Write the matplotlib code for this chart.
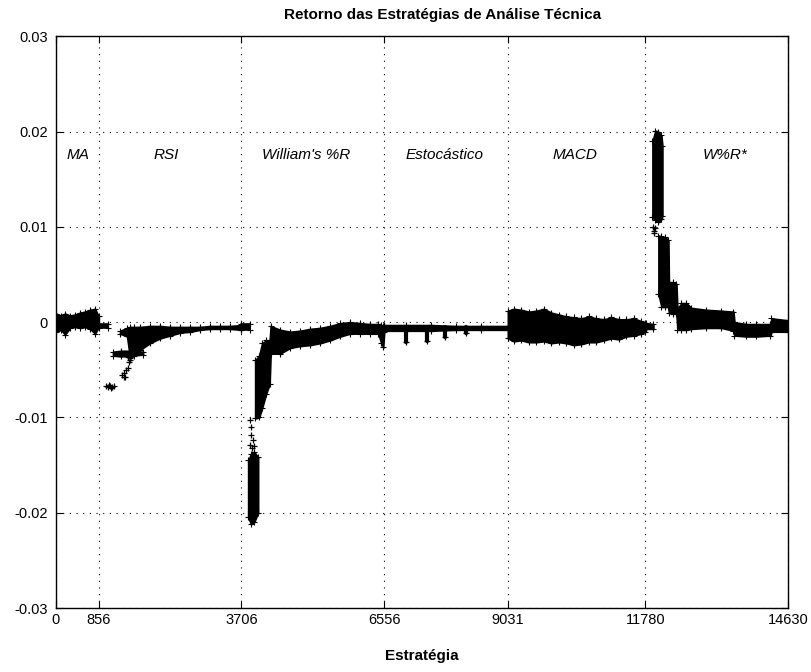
import matplotlib
matplotlib.use("Agg")
import matplotlib.pyplot as plt

plt.rcParams["font.family"] = ["Liberation Sans", "DejaVu Sans"]

# tick positions (strategy index boundaries)
x_ticks = [0, 856, 3706, 6556, 9031, 11780, 14630]
y_ticks = [-0.03, -0.02, -0.01, 0, 0.01, 0.02, 0.03]
y_ticklabels = ["-0.03", "-0.02", "-0.01", "0", "0.01", "0.02", "0.03"]

# group labels
group_names = ["MA", "RSI", "William's %R", "Estocástico", "MACD", "W%R*"]
group_x = [440, 2200, 5000, 7760, 10380, 13380]
group_y = [0.0175, 0.0175, 0.0175, 0.0175, 0.0175, 0.0175]

# MA envelope
ma_x = [0, 100, 180, 280, 380, 480, 580, 680, 780, 856]
ma_hi = [0.0009, 0.0007, 0.0009, 0.0007, 0.0008, 0.0010, 0.0011, 0.0013, 0.0014, 0.0006]
ma_lo = [-0.0010, -0.0008, -0.0013, -0.0006, -0.0005, -0.0006, -0.0005, -0.0007, -0.0012, -0.0005]

# RSI
rsi_head_x = [860, 1040]
rsi_head_hi = [-0.0002, -0.0002]
rsi_head_lo = [-0.0006, -0.0006]
rsi_x = [1280, 1420, 1480, 1560, 1680, 1880, 2080, 2280, 2480, 2680, 2880, 3080, 3280, 3480, 3706]
rsi_hi = [-0.0009, -0.0006, -0.0005, -0.0005, -0.0005, -0.0004, -0.0004, -0.0005,
          -0.0005, -0.0005, -0.0005, -0.0004, -0.0004, -0.0004, -0.0003]
rsi_lo = [-0.0012, -0.0015, -0.0038, -0.0035, -0.0029, -0.0022, -0.0017, -0.0014,
          -0.0011, -0.0010, -0.0008, -0.0007, -0.0007, -0.0007, -0.0008]
rsi_band_x = [1140, 1300, 1500, 1740]
rsi_band_hi = [-0.0031, -0.0030, -0.0030, -0.0031]
rsi_band_lo = [-0.0035, -0.0036, -0.0035, -0.0034]
rsi_pts_x = [990, 1030, 1070, 1110, 1150, 1050, 1090,
             1320, 1350, 1380, 1400, 1440, 1360, 1440, 1480, 1460]
rsi_pts_y = [-0.0067, -0.0068, -0.0067, -0.0068, -0.0067, -0.0066, -0.0069,
             -0.0055, -0.0053, -0.0057, -0.0050, -0.0048, -0.0058, -0.0037, -0.0040, -0.0042]

# William's %R
wr_head_x = [3706, 3880]
wr_head_hi = [-0.0002, -0.0002]
wr_head_lo = [-0.0008, -0.0008]
wr_spike_x = [3840, 3900, 3960, 4040]
wr_spike_hi = [-0.0145, -0.0138, -0.0136, -0.0142]
wr_spike_lo = [-0.0205, -0.0212, -0.0210, -0.0200]
wr_pts_x = [3890, 3930, 3870, 3910, 3950, 3880, 3900]
wr_pts_y = [-0.0110, -0.0124, -0.0129, -0.0132, -0.0130, -0.0103, -0.0118]
wr_x = [3980, 4060, 4120, 4200, 4270, 4290, 4480, 4680, 4880, 5080, 5280, 5480,
        5680, 5880, 6080, 6280, 6440, 6500, 6540, 6560]
wr_hi = [-0.0040, -0.0035, -0.0022, -0.0019, -0.0019, -0.0004, -0.0008, -0.0010,
         -0.0009, -0.0007, -0.0006, -0.0004, -0.0001, 0.0000, -0.0001, -0.0002,
         -0.0002, -0.0003, -0.0004, -0.0004]
wr_lo = [-0.0101, -0.0100, -0.0090, -0.0075, -0.0065, -0.0033, -0.0033, -0.0027,
         -0.0025, -0.0024, -0.0022, -0.0019, -0.0015, -0.0012, -0.0012, -0.0012,
         -0.0012, -0.0022, -0.0026, -0.0010]

# Estocástico
sto_x = [6560, 7000, 7500, 8000, 8500, 9031]
sto_hi = [-0.0003, -0.0003, -0.0003, -0.0004, -0.0004, -0.0004]
sto_lo = [-0.0009, -0.0009, -0.0009, -0.0008, -0.0008, -0.0008]
sto_drip_x = [7000, 7420, 7780, 8200]
sto_drip_lo = [-0.0021, -0.0020, -0.0016, -0.0011]

# MACD
macd_x = [9031, 9150, 9300, 9450, 9600, 9750, 9900, 10050, 10200, 10350, 10500, 10650,
          10800, 10950, 11100, 11250, 11400, 11550, 11700, 11780, 11800, 11940]
macd_hi = [0.0012, 0.0014, 0.0013, 0.0011, 0.0012, 0.0014, 0.0010, 0.0008, 0.0006,
           0.0005, 0.0004, 0.0006, 0.0004, 0.0003, 0.0005, 0.0003, 0.0003, 0.0004,
           0.0001, -0.0001, -0.0001, -0.0002]
macd_lo = [-0.0017, -0.0020, -0.0019, -0.0021, -0.0021, -0.0020, -0.0022, -0.0021,
           -0.0022, -0.0024, -0.0023, -0.0021, -0.0021, -0.0019, -0.0017, -0.0018,
           -0.0015, -0.0014, -0.0012, -0.0010, -0.0007, -0.0007]

# W%R*
wrs_top_x = [11920, 11980, 12040, 12100, 12120]
wrs_top_hi = [0.0190, 0.0201, 0.0200, 0.0196, 0.0185]
wrs_top_lo = [0.0110, 0.0107, 0.0105, 0.0108, 0.0112]
wrs_pts_x = [11940, 11960, 11950, 11980]
wrs_pts_y = [0.0100, 0.0096, 0.0094, 0.0099]
wrs_x = [12040, 12100, 12180, 12240, 12250, 12340, 12400, 12420, 12500, 12600, 12700,
         13000, 13300, 13540, 13560, 13800, 14000, 14280, 14300, 14630]
wrs_hi = [0.0091, 0.0090, 0.0089, 0.0086, 0.0042, 0.0042, 0.0040, 0.0014, 0.0020,
          0.0020, 0.0015, 0.0013, 0.0012, 0.0011, 0.0000, -0.0002, -0.0002, -0.0002,
          0.0004, 0.0002]
wrs_lo = [0.0030, 0.0016, 0.0016, 0.0016, 0.0010, 0.0009, 0.0009, -0.0008, -0.0008,
          -0.0008, -0.0007, -0.0006, -0.0006, -0.0009, -0.0014, -0.0015, -0.0015,
          -0.0014, -0.0010, -0.0010]


def cloud(ax, x, lo, hi):
    ax.fill_between(x, lo, hi, color="black", lw=1.2, zorder=3)
    ax.plot(x, hi, "+", color="black", ms=4, mew=0.8, zorder=3)
    ax.plot(x, lo, "+", color="black", ms=4, mew=0.8, zorder=3)


fig = plt.figure(figsize=(8.11, 6.72), dpi=100, facecolor="white")
ax = fig.add_axes([56 / 811, 1 - 608 / 672, 732 / 811, 571.6 / 672])

cloud(ax, ma_x, ma_lo, ma_hi)
cloud(ax, rsi_head_x, rsi_head_lo, rsi_head_hi)
cloud(ax, rsi_x, rsi_lo, rsi_hi)
cloud(ax, rsi_band_x, rsi_band_lo, rsi_band_hi)
cloud(ax, wr_head_x, wr_head_lo, wr_head_hi)
cloud(ax, wr_spike_x, wr_spike_lo, wr_spike_hi)
cloud(ax, wr_x, wr_lo, wr_hi)
cloud(ax, sto_x, sto_lo, sto_hi)
ax.vlines(sto_drip_x, sto_drip_lo, [-0.0005] * len(sto_drip_x), color="black", lw=3,
          capstyle="round", zorder=3)
ax.plot(sto_drip_x, sto_drip_lo, "+", color="black", ms=4, mew=0.9, zorder=3)
cloud(ax, macd_x, macd_lo, macd_hi)
cloud(ax, wrs_top_x, wrs_top_lo, wrs_top_hi)
cloud(ax, wrs_x, wrs_lo, wrs_hi)
ax.plot(rsi_pts_x, rsi_pts_y, "+", color="black", ms=4, mew=0.9, zorder=3)
ax.plot(wr_pts_x, wr_pts_y, "+", color="black", ms=4, mew=0.9, zorder=3)
ax.plot(wrs_pts_x, wrs_pts_y, "+", color="black", ms=4, mew=0.9, zorder=3)

for name, gx, gy in zip(group_names, group_x, group_y):
    ax.text(gx, gy, name, fontsize=11, style="italic", ha="center", va="center")

ax.set_xlim(0, 14630)
ax.set_ylim(-0.03, 0.03)
ax.set_xticks(x_ticks)
ax.set_xticklabels([str(t) for t in x_ticks])
ax.set_yticks(y_ticks)
ax.set_yticklabels(y_ticklabels)
ax.tick_params(direction="in", length=5, width=0.8, top=True, right=True, labelsize=10.5)
ax.tick_params(axis="y", pad=6)
ax.grid(True, color="black", linestyle=(0, (1, 5)), lw=0.8)
for sp in ax.spines.values():
    sp.set_linewidth(1.0)

fig.text(443 / 811, 1 - 15 / 672, "Retorno das Estratégias de Análise Técnica",
         fontsize=11, fontweight="bold", ha="center", va="center")
fig.text(422 / 811, 1 - 656 / 672, "Estratégia", fontsize=11, fontweight="bold",
         ha="center", va="center")

fig.savefig("out.png", dpi=100, facecolor="white")
